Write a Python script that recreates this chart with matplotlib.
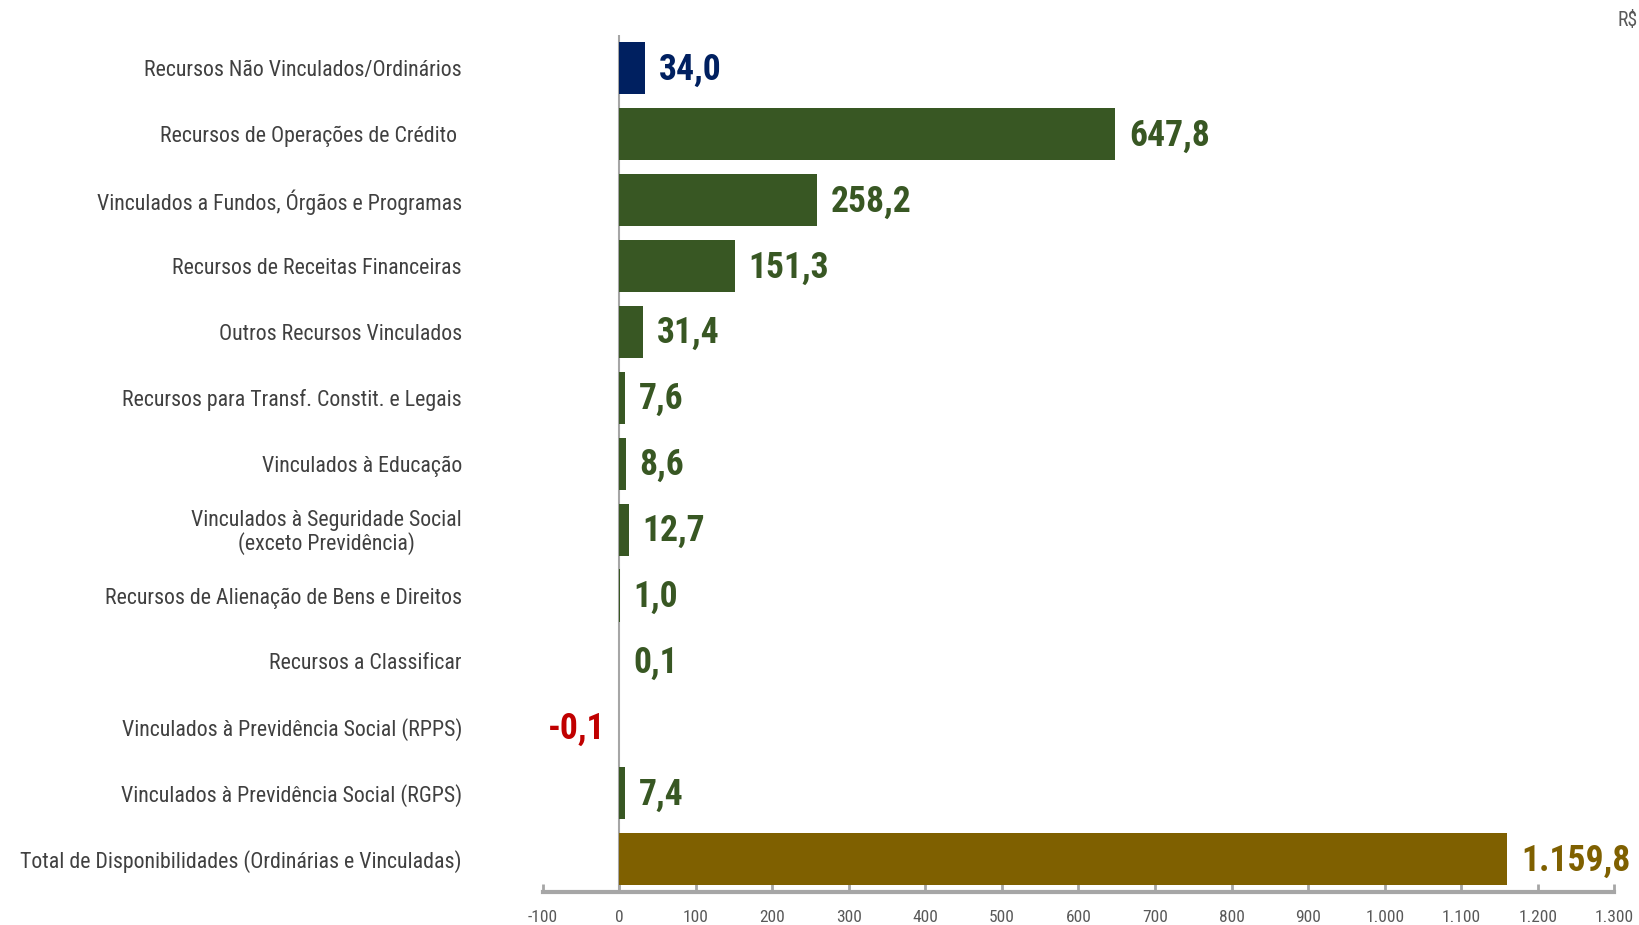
import numpy as np
import matplotlib.pyplot as plt
from matplotlib import font_manager
from matplotlib.ticker import FuncFormatter

# Dados (R$ bilhões)
categorias = [
    "Recursos Não Vinculados/Ordinários",
    "Recursos de Operações de Crédito ",
    "Vinculados a Fundos, Órgãos e Programas",
    "Recursos de Receitas Financeiras",
    "Outros Recursos Vinculados",
    "Recursos para Transf. Constit. e Legais",
    "Vinculados à Educação",
    "Vinculados à Seguridade Social\n(exceto Previdência)",
    "Recursos de Alienação de Bens e Direitos",
    "Recursos a Classificar",
    "Vinculados à Previdência Social (RPPS)",
    "Vinculados à Previdência Social (RGPS)",
    "Total de Disponibilidades (Ordinárias e Vinculadas)",
]
valores = [34.0, 647.8, 258.2, 151.3, 31.4, 7.6, 8.6, 12.7, 1.0, 0.1, -0.1, 7.4, 1159.8]

AZUL = "#002060"
VERDE = "#385723"
OURO = "#7F6000"
VERMELHO = "#C00000"

# fonte estreita se houver, senão Liberation Sans com tamanhos menores
instaladas = {f.name for f in font_manager.fontManager.ttflist}
fonte = "Liberation Sans"
escala = 1.0
for nome in ["Liberation Sans Narrow", "Arial Narrow", "Roboto Condensed", "Open Sans Condensed"]:
    if nome in instaladas:
        fonte = nome
        escala = 1.14
        break
plt.rcParams['font.family'] = [fonte, 'DejaVu Sans']

def cor(i, v):
    if i == 0:
        return AZUL
    if i == len(valores) - 1:
        return OURO
    if v < 0:
        return VERMELHO
    return VERDE

fig = plt.figure(figsize=(16.39, 9.25), dpi=100)
ax = fig.add_axes([0.331, 0.0357, 0.654, 0.926])

y = np.arange(len(valores))
cores = [cor(i, v) for i, v in enumerate(valores)]
ax.barh(y, valores, height=0.79, color=cores, zorder=3)

# linha do zero
ax.axvline(0, color="#A6A6A6", lw=1.5, zorder=2)

# rótulos de valor
for i, v in enumerate(valores):
    txt = f"{v:,.1f}".replace(",", "X").replace(".", ",").replace("X", ".")
    if v >= 0:
        ax.annotate(txt, (v, i), xytext=(10, -1), textcoords="offset points",
                    ha="left", va="center", fontsize=22.5 * escala, fontweight="bold",
                    color=cores[i])
    else:
        ax.annotate(txt, (0, i), xytext=(-10, -1), textcoords="offset points",
                    ha="right", va="center", fontsize=22.5 * escala, fontweight="bold",
                    color=cores[i])

ax.set_xlim(-100, 1300)
ax.set_ylim(len(valores) - 0.5, -0.5)
ax.set_xticks(np.arange(-100, 1301, 100))
ax.xaxis.set_major_formatter(FuncFormatter(lambda x, p: f"{x:,.0f}".replace(",", ".")))

ax.set_yticks(y)
ax.set_yticklabels(categorias, fontsize=13.8 * escala, color="#404040",
                   multialignment="center", linespacing=1.05)
ax.tick_params(axis="y", length=0, pad=58)
ax.tick_params(axis="x", direction="in", length=6, width=2, color="#A6A6A6",
               labelsize=11 * escala, labelcolor="#595959", pad=13)

for s in ["top", "right", "left"]:
    ax.spines[s].set_visible(False)
ax.spines["bottom"].set_color("#A6A6A6")
ax.spines["bottom"].set_linewidth(3)

fig.text(0.987, 0.988, "R$", ha="left", va="top", fontsize=12.5 * escala, color="#595959")

fig.savefig("out.png", dpi=100)
